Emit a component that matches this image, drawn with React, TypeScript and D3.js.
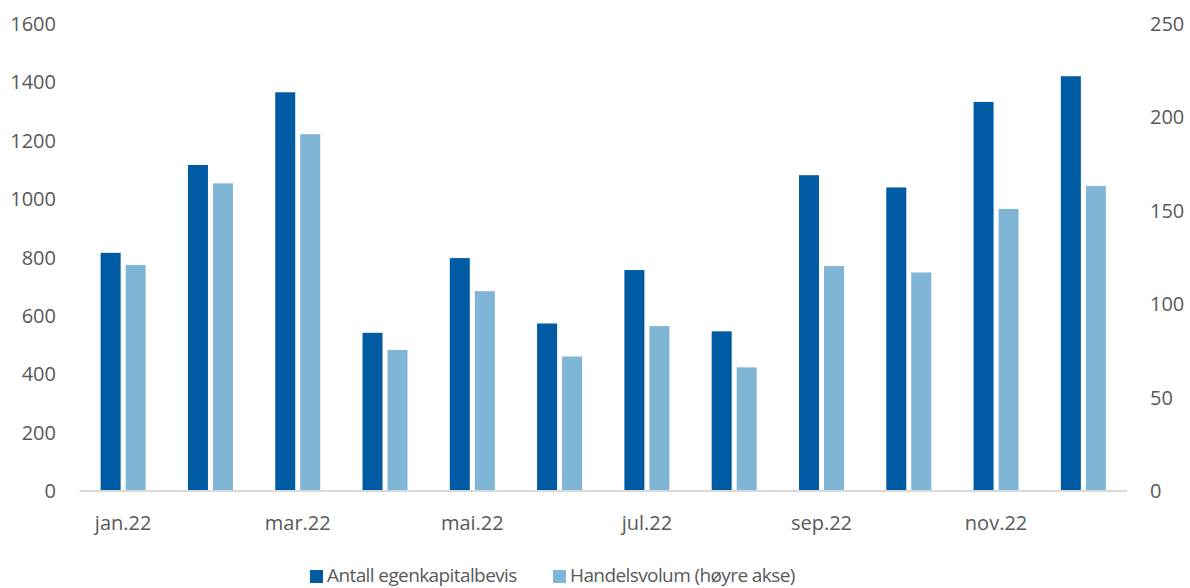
import React, { useEffect, useRef } from "react";
import * as d3 from "d3";

const months = ["jan.22", "feb.22", "mar.22", "apr.22", "mai.22", "jun.22", "jul.22", "aug.22", "sep.22", "okt.22", "nov.22", "des.22"];
const antall = [816, 1117, 1366, 542, 798, 574, 757, 547, 1082, 1040, 1333, 1421];
const handelsvolum = [121, 164.7, 191, 75.5, 107, 72, 88.3, 66.2, 120.4, 117, 151, 163.3];
const leftTicks = [0, 200, 400, 600, 800, 1000, 1200, 1400, 1600];
const rightTicks = [0, 50, 100, 150, 200, 250];
const seriesNames = ["Antall egenkapitalbevis", "Handelsvolum (høyre akse)"];

const W = 1190;
const H = 588;
const DARK = "#005BA5";
const LIGHT = "#7FB5D5";
const TEXT = "#595959";
const FONT = "'Open Sans', sans-serif";

export default function App() {
  const ref = useRef<SVGSVGElement>(null);

  useEffect(() => {
    const svg = d3.select(ref.current);
    svg.selectAll("*").remove();

    const left = 79.5, right = 1127, top = 24, bottom = 491;

    const x0 = d3.scaleBand<string>().domain(months).range([left, right]).padding(0);
    const bw = x0.bandwidth();
    const x1 = d3.scaleBand<number>().domain([0, 1]).range([bw / 2 - 22.5, bw / 2 + 22.5]).paddingInner(0.2);
    const yL = d3.scaleLinear().domain([0, 1600]).range([bottom, top]);
    const yR = d3.scaleLinear().domain([0, 250]).range([bottom, top]);

    const g = svg.append("g");

    // bars
    const groups = g.selectAll("g.m").data(months).enter().append("g")
      .attr("transform", (d) => `translate(${x0(d)},0)`);
    groups.append("rect")
      .attr("x", x1(0)!)
      .attr("width", x1.bandwidth())
      .attr("y", (d, i) => yL(antall[i]))
      .attr("height", (d, i) => bottom - yL(antall[i]))
      .attr("fill", DARK);
    groups.append("rect")
      .attr("x", x1(1)!)
      .attr("width", x1.bandwidth())
      .attr("y", (d, i) => yR(handelsvolum[i]))
      .attr("height", (d, i) => bottom - yR(handelsvolum[i]))
      .attr("fill", LIGHT);

    // baseline
    g.append("line")
      .attr("x1", left).attr("x2", right)
      .attr("y1", bottom).attr("y2", bottom)
      .attr("stroke", "#D9D9D9").attr("stroke-width", 2);

    // left axis labels
    g.selectAll("text.yl").data(leftTicks).enter().append("text")
      .attr("x", 56).attr("y", (d) => yL(d))
      .attr("dy", "0.35em").attr("text-anchor", "end")
      .attr("fill", TEXT).style("font-family", FONT).style("font-size", "20px")
      .text((d) => d);

    // right axis labels
    g.selectAll("text.yr").data(rightTicks).enter().append("text")
      .attr("x", 1150).attr("y", (d) => yR(d))
      .attr("dy", "0.35em").attr("text-anchor", "start")
      .attr("fill", TEXT).style("font-family", FONT).style("font-size", "20px")
      .text((d) => d);

    // x labels (every other month)
    g.selectAll("text.x").data(months.filter((d, i) => i % 2 === 0)).enter().append("text")
      .attr("x", (d) => x0(d)! + bw / 2).attr("y", 523)
      .attr("dy", "0.35em").attr("text-anchor", "middle")
      .attr("fill", TEXT).style("font-family", FONT).style("font-size", "20px")
      .text((d) => d);

    // legend
    const legendX = [310, 553];
    const colors = [DARK, LIGHT];
    seriesNames.forEach((name, i) => {
      g.append("rect").attr("x", legendX[i]).attr("y", 570)
        .attr("width", 13).attr("height", 13).attr("fill", colors[i]);
      g.append("text").attr("x", legendX[i] + 17).attr("y", 582)
        .attr("fill", TEXT).style("font-family", FONT).style("font-size", "19px")
        .style("letter-spacing", "-0.6px")
        .text(name);
    });
  }, []);

  return (
    <svg ref={ref} width={W} height={H}
      style={{ position: "absolute", left: 0, top: 0, background: "#fff" }} />
  );
}
